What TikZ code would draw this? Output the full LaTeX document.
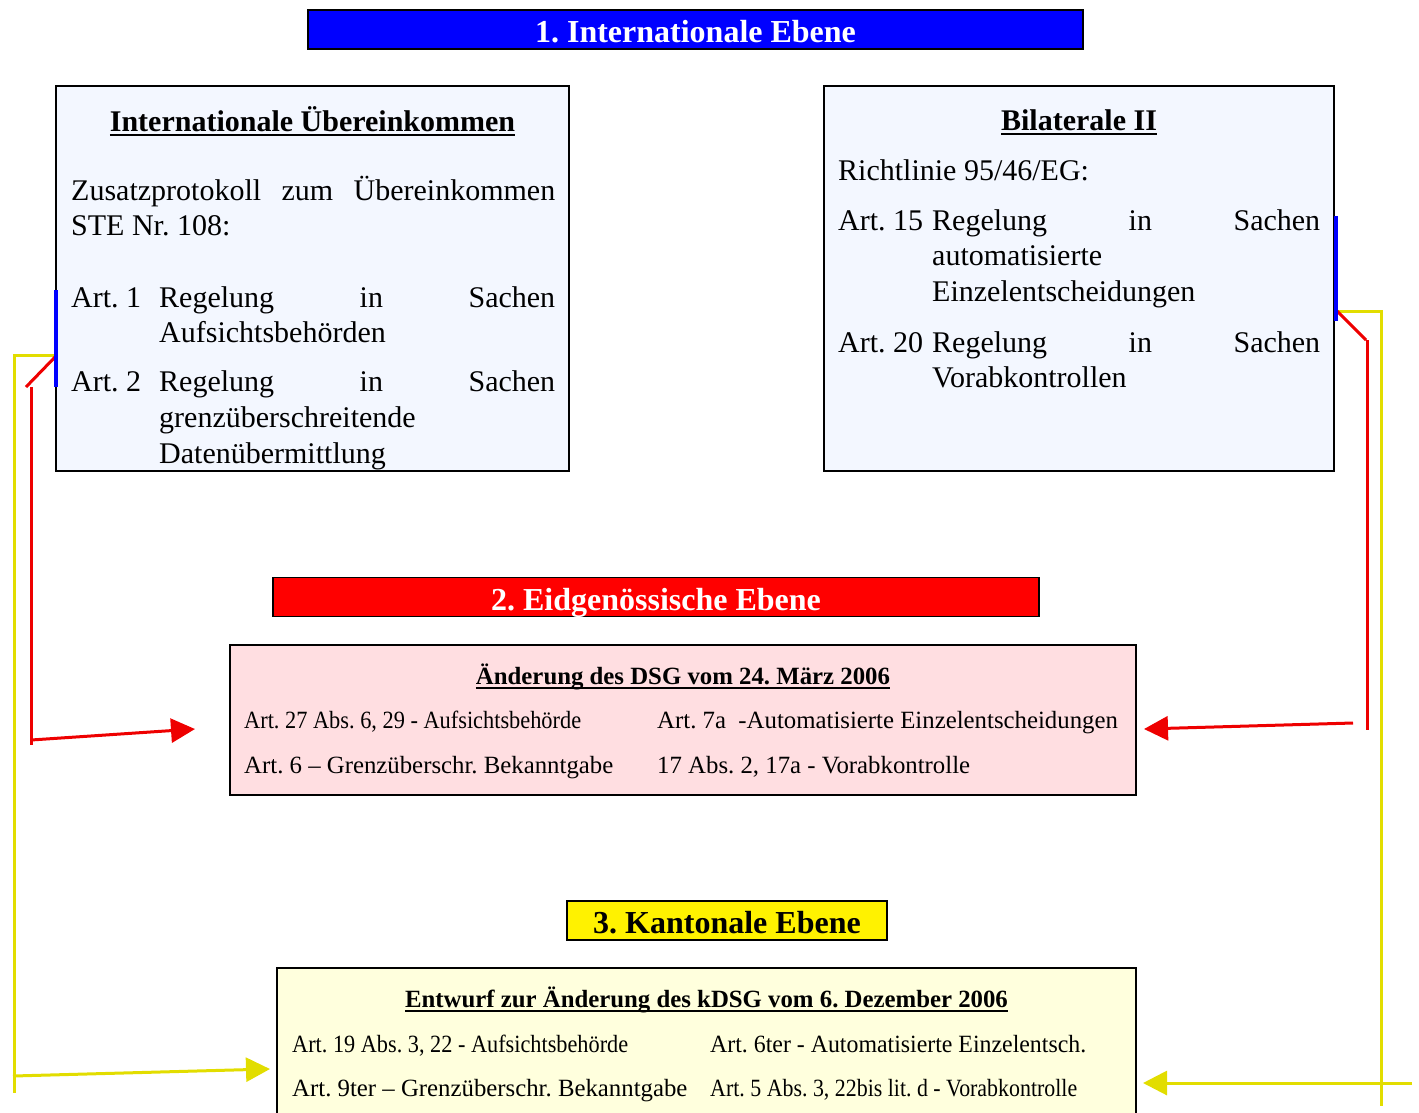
\documentclass[tikz,border=0pt]{standalone}
\usepackage{fontspec}
\usepackage{graphicx}
\setmainfont{Liberation Serif}
\usetikzlibrary{positioning, arrows.meta}
\frenchspacing
\definecolor{upfill}{RGB}{243,247,255}
\definecolor{pinkfill}{RGB}{255,222,225}
\definecolor{creamfill}{RGB}{255,255,221}
\definecolor{linkyellow}{RGB}{226,221,0}
\definecolor{linkred}{RGB}{238,0,0}
\newsavebox{\ulbox}
\newcommand{\ulin}[1]{\sbox{\ulbox}{#1}\rlap{\rule[-4.5pt]{\wd\ulbox}{2pt}}\usebox{\ulbox}}
% squeeze a text to a given width, height kept
\newcommand{\squeeze}[2]{\resizebox{#1}{\height}{#2}}
\tikzset{
  banner/.style={
    draw=black, line width=1.2pt,
    minimum height=39pt, inner sep=0pt,
    text=white, text height=26pt, text depth=0pt,
    font=\fontsize{32}{36}\selectfont\bfseries
  },
  upbox/.style={draw=black, line width=1.2pt, fill=upfill, inner sep=0pt},
  lowbox/.style={draw=black, line width=1.8pt, inner sep=0pt},
  title/.style={inner sep=0pt, anchor=base, font=\fontsize{30}{35}\selectfont\bfseries},
  subtitle/.style={inner sep=0pt, anchor=base, font=\fontsize{24.8}{30}\selectfont\bfseries},
  body/.style={inner sep=0pt, anchor=base west, font=\fontsize{30}{35.7}\selectfont},
  rows/.style={inner sep=0pt, anchor=base west, font=\fontsize{24.8}{45}\selectfont},
  redlink/.style={draw=linkred, line width=3pt},
  yellink/.style={draw=linkyellow, line width=3pt},
  bluebar/.style={draw=blue, line width=4pt}
}

\begin{document}
\begin{tikzpicture}[x=1pt, y=-1pt, >={Triangle[length=24pt,width=24pt]}]
  \useasboundingbox (0,0) rectangle (1419,1112);

  % level banners
  \node[banner, fill=blue, minimum width=775pt] (intl) at (695.5,29.5) {1. Internationale Ebene};
  \node[banner, fill=red, minimum width=766pt] (eidg) at (656,597) {2. Eidgenössische Ebene};
  \node[banner, fill=yellow, text=black, minimum width=320pt] (kant) at (727,920.5) {3. Kantonale Ebene};

  % boxes
  \node[upbox, minimum width=513pt, minimum height=385pt] (uebk) at (312.5,278.5) {};
  \node[upbox, minimum width=510pt, minimum height=385pt] (bilat) at (1079,278.5) {};
  \node[lowbox, fill=pinkfill, minimum width=906pt, minimum height=150pt] (dsg) at (683,720) {};
  \node[lowbox, fill=creamfill, minimum width=859pt, minimum height=170pt] (kdsg) at (706.5,1053) {};

  % international texts
  \node[title] (uebktitle) at (312.5,131) {\ulin{Internationale Übereinkommen}};
  \node[body] (zusatz) at (71,200) {\parbox[t]{484pt}{Zusatzprotokoll\hfill zum\hfill Übereinkommen\\
    STE Nr. 108:}};
  \node[body] (ste) at (71,307) {\parbox[t]{484pt}{\makebox[88pt][l]{Art. 1}Regelung\hfill in\hfill Sachen\\
    \hspace*{88pt}Aufsichtsbehörden\\[13.5pt]
    \makebox[88pt][l]{Art. 2}Regelung\hfill in\hfill Sachen\\
    \hspace*{88pt}grenzüberschreitende\\
    \hspace*{88pt}Datenübermittlung}};

  \node[title] (bilattitle) at (1079,130) {\ulin{Bilaterale II}};
  \node[body] (richtl) at (838,180) {Richtlinie 95/46/EG:};
  \node[body] (eg) at (838,230) {\parbox[t]{482pt}{\makebox[94pt][l]{Art. 15}Regelung\hfill in\hfill Sachen\\
    \hspace*{94pt}automatisierte\\
    \hspace*{94pt}Einzelentscheidungen\\[15pt]
    \makebox[94pt][l]{Art. 20}Regelung\hfill in\hfill Sachen\\
    \hspace*{94pt}Vorabkontrollen}};

  % federal and cantonal texts
  \node[subtitle] (dsgtitle) at (683,684) {\ulin{Änderung des DSG vom 24. März 2006}};
  \node[rows] (dsgrows) at (244,728) {\parbox[t]{880pt}{\makebox[413pt][l]{\squeeze{337pt}{Art. 27 Abs. 6, 29 - Aufsichtsbehörde}}Art. 7a\ \ -Automatisierte Einzelentscheidungen\\
    \makebox[413pt][l]{Art. 6 – Grenzüberschr. Bekanntgabe}17 Abs. 2, 17a - Vorabkontrolle}};
  \node[subtitle] (kdsgtitle) at (706.5,1007) {\ulin{Entwurf zur Änderung des kDSG vom 6. Dezember 2006}};
  \node[rows] (kdsgrows) at (292,1052) {\parbox[t]{840pt}{\makebox[418pt][l]{\squeeze{336pt}{Art. 19 Abs. 3, 22 - Aufsichtsbehörde}}\squeeze{376pt}{Art. 6ter - Automatisierte Einzelentsch.}\\[-1pt]
    \makebox[418pt][l]{Art. 9ter – Grenzüberschr. Bekanntgabe}\squeeze{367pt}{Art. 5 Abs. 3, 22bis lit. d - Vorabkontrolle}}};

  % connectors
  \coordinate (lbartop) at (56,290);
  \coordinate (lbarbot) at (56,387);
  \coordinate (lhook) at (57,355);
  \coordinate (rbartop) at (1336,216);
  \coordinate (rbarbot) at (1336,321);
  \coordinate (rhook) at (1337,311);
  \coordinate (dsgleft) at (195,729);
  \coordinate (dsgright) at (1144,729);
  \coordinate (kdsgleft) at (270,1069);
  \coordinate (kdsgright) at (1143,1083);

  \draw[yellink] (lhook) -- (14,355) -- (14,1093);
  \draw[yellink, ->] (13,1076) -- (kdsgleft);
  \draw[redlink] (lhook) -- (26,387);
  \draw[redlink] (31,387) -- (31,745);
  \draw[redlink, ->] (31,740) -- (dsgleft);
  \draw[bluebar] (lbartop) -- (lbarbot);

  \draw[yellink] (rhook) -- (1381,311) -- (1381,1106);
  \draw[yellink, ->] (1412,1083) -- (kdsgright);
  \draw[redlink] (rhook) -- (1366,340);
  \draw[redlink] (1367,340) -- (1367,730);
  \draw[redlink, ->] (1353,723) -- (dsgright);
  \draw[bluebar] (rbartop) -- (rbarbot);
\end{tikzpicture}
\end{document}
